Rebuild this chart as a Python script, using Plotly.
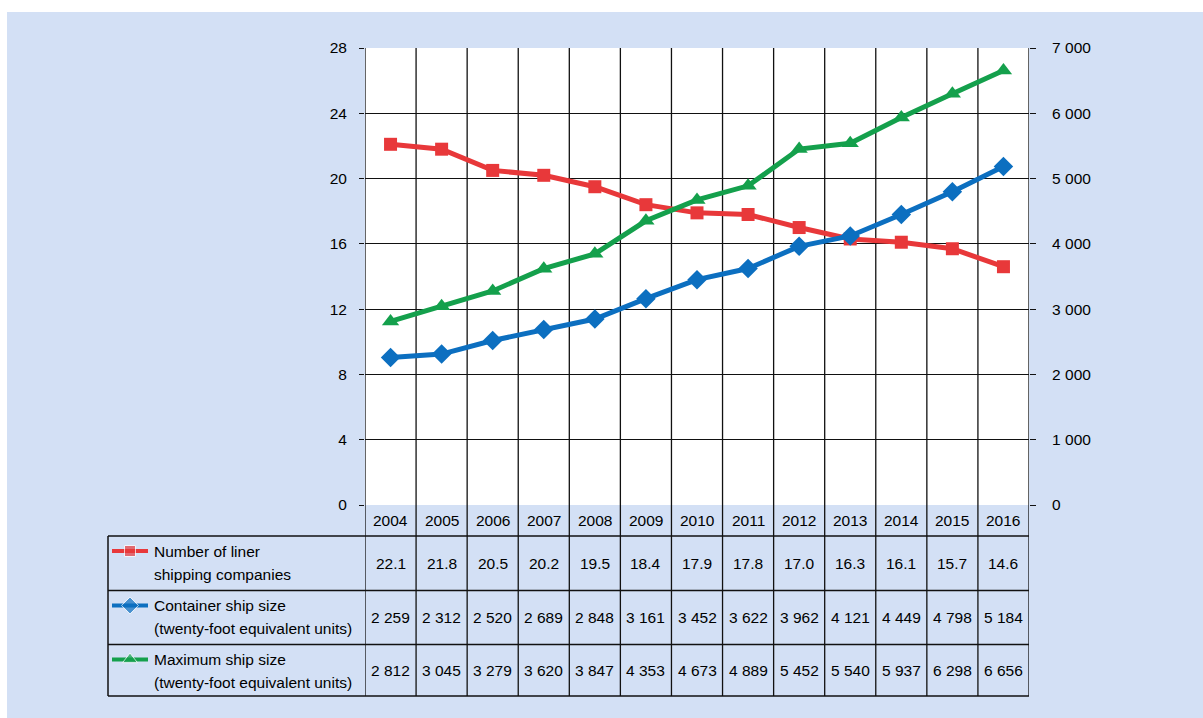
import plotly.graph_objects as go

# data
years = [2004, 2005, 2006, 2007, 2008, 2009, 2010, 2011, 2012, 2013, 2014, 2015, 2016]
companies = [22.1, 21.8, 20.5, 20.2, 19.5, 18.4, 17.9, 17.8, 17.0, 16.3, 16.1, 15.7, 14.6]
container_size = [2259, 2312, 2520, 2689, 2848, 3161, 3452, 3622, 3962, 4121, 4449, 4798, 5184]
max_size = [2812, 3045, 3279, 3620, 3847, 4353, 4673, 4889, 5452, 5540, 5937, 6298, 6656]

left_ticks = [0, 4, 8, 12, 16, 20, 24, 28]
right_ticks = [0, 1000, 2000, 3000, 4000, 5000, 6000, 7000]
right_ticktext = ['0', '1 000', '2 000', '3 000', '4 000', '5 000', '6 000', '7 000']

row_labels = [
    ['Number of liner', 'shipping companies'],
    ['Container ship size', '(twenty-foot equivalent units)'],
    ['Maximum ship size', '(twenty-foot equivalent units)'],
]

RED = '#e8383a'
BLUE = '#0c6fc0'
GREEN = '#14a04c'
BG = '#d3e0f5'
LINE = '#111111'
FONT = 'Liberation Sans, Arial, sans-serif'
FS = 15.5

W, H = 1203, 718


def fx(p):
    return p / W


def fy(p):
    return 1 - p / H


# pixel layout of the frame
PLOT_L, PLOT_R, PLOT_T, PLOT_B = 365, 1029, 48, 505
TAB_L = 108
row_edges = [536, 590.5, 644.5, 696]  # header bottom, then row bottoms

fmt_int = lambda v: f'{v:,}'.replace(',', ' ')
table_rows = [
    [f'{v:.1f}' for v in companies],
    [fmt_int(v) for v in container_size],
    [fmt_int(v) for v in max_size],
]
series_style = [(RED, 'square', 11), (BLUE, 'diamond', 13), (GREEN, 'triangle-up', 13)]

fig = go.Figure()

#Chart traces
fig.add_trace(go.Scatter(x=years, y=companies, mode='lines+markers', name='Number of liner shipping companies',
                         line=dict(color=RED, width=5), marker=dict(symbol='square', size=13, color=RED)))
fig.add_trace(go.Scatter(x=years, y=container_size, mode='lines+markers', name='Container ship size', yaxis='y2',
                         line=dict(color=BLUE, width=5), marker=dict(symbol='diamond', size=15, color=BLUE)))
fig.add_trace(go.Scatter(x=years, y=max_size, mode='lines+markers', name='Maximum ship size', yaxis='y2',
                         line=dict(color=GREEN, width=5), marker=dict(symbol='triangle-up', size=15, color=GREEN)))

#Legend samples inside the table (pixel overlay axes)
for i, (col, sym, size) in enumerate(series_style):
    yc = row_edges[i] + 15
    fig.add_trace(go.Scatter(x=[112, 130, 148], y=[yc, yc, yc], mode='lines+markers', xaxis='x3', yaxis='y3',
                             line=dict(color=col, width=4), marker=dict(symbol=sym, size=[0, size, 0], color=col),
                             hoverinfo='skip'))

shapes = []
# background panel and white plot area
shapes.append(dict(type='rect', xref='paper', yref='paper', x0=fx(7), x1=1, y0=0, y1=fy(12),
                   fillcolor=BG, line_width=0, layer='below'))
shapes.append(dict(type='rect', xref='paper', yref='paper', x0=fx(PLOT_L), x1=fx(PLOT_R), y0=fy(PLOT_B), y1=fy(PLOT_T),
                   fillcolor='white', line_width=0, layer='below'))
# column boundaries through plot and table
for k in range(len(years) + 1):
    xb = years[0] - 0.5 + k
    shapes.append(dict(type='line', xref='x', yref='paper', x0=xb, x1=xb, y0=fy(row_edges[-1]), y1=fy(PLOT_T),
                       line=dict(color=LINE, width=1.3), layer='below'))
# table horizontal lines
for yb in row_edges:
    shapes.append(dict(type='line', xref='paper', yref='paper', x0=fx(TAB_L), x1=fx(PLOT_R), y0=fy(yb), y1=fy(yb),
                       line=dict(color=LINE, width=1.5), layer='below'))
shapes.append(dict(type='line', xref='paper', yref='paper', x0=fx(TAB_L), x1=fx(TAB_L), y0=fy(row_edges[-1]),
                   y1=fy(row_edges[0]), line=dict(color=LINE, width=1.5), layer='below'))

annotations = []
txt = dict(showarrow=False, yanchor='middle', font=dict(size=FS, color='black'))
# header row with years
for yr in years:
    annotations.append(dict(x=yr, xref='x', xanchor='center', y=fy((PLOT_B + row_edges[0]) / 2),
                            yref='paper', text=str(yr), **txt))
# value rows and row labels
for i, vals in enumerate(table_rows):
    yc = (row_edges[i] + row_edges[i + 1]) / 2
    for yr, v in zip(years, vals):
        annotations.append(dict(x=yr, xref='x', xanchor='center', y=fy(yc), yref='paper', text=v, **txt))
    for j, line in enumerate(row_labels[i]):
        annotations.append(dict(x=fx(152), xref='paper', xanchor='left', y=fy(row_edges[i] + 15 + 23 * j),
                                yref='paper', text=line, **txt))

fig.update_layout(
    width=W, height=H,
    margin=dict(l=0, r=0, t=0, b=0),
    paper_bgcolor='white',
    plot_bgcolor='rgba(0,0,0,0)',
    showlegend=False,
    font=dict(family=FONT, size=FS, color='black'),
    xaxis=dict(domain=[fx(PLOT_L), fx(PLOT_R)], range=[years[0] - 0.5, years[-1] + 0.5], showticklabels=False,
               showgrid=False, zeroline=False, showline=False, ticks='', automargin=False, anchor='y'),
    yaxis=dict(domain=[fy(PLOT_B), fy(PLOT_T)], range=[0, 28], tickvals=left_ticks, showgrid=True,
               gridcolor=LINE, gridwidth=1.2, zeroline=False, ticks='outside', ticklen=5, tickcolor=LINE,
               tickwidth=1.2, ticklabelstandoff=9, automargin=False, anchor='x'),
    yaxis2=dict(overlaying='y', side='right', range=[0, 7000], tickvals=right_ticks, ticktext=right_ticktext,
                showgrid=False, zeroline=False, ticks='outside', ticklen=6, tickcolor=LINE, tickwidth=1.2,
                ticklabelstandoff=13, automargin=False, anchor='x'),
    xaxis3=dict(domain=[0, 1], range=[0, W], visible=False, anchor='y3'),
    yaxis3=dict(domain=[0, 1], range=[H, 0], visible=False, anchor='x3'),
    shapes=shapes,
    annotations=annotations,
)

fig.write_html("out.html", config={'displayModeBar': False}, post_script="document.body.style.margin='0';")
